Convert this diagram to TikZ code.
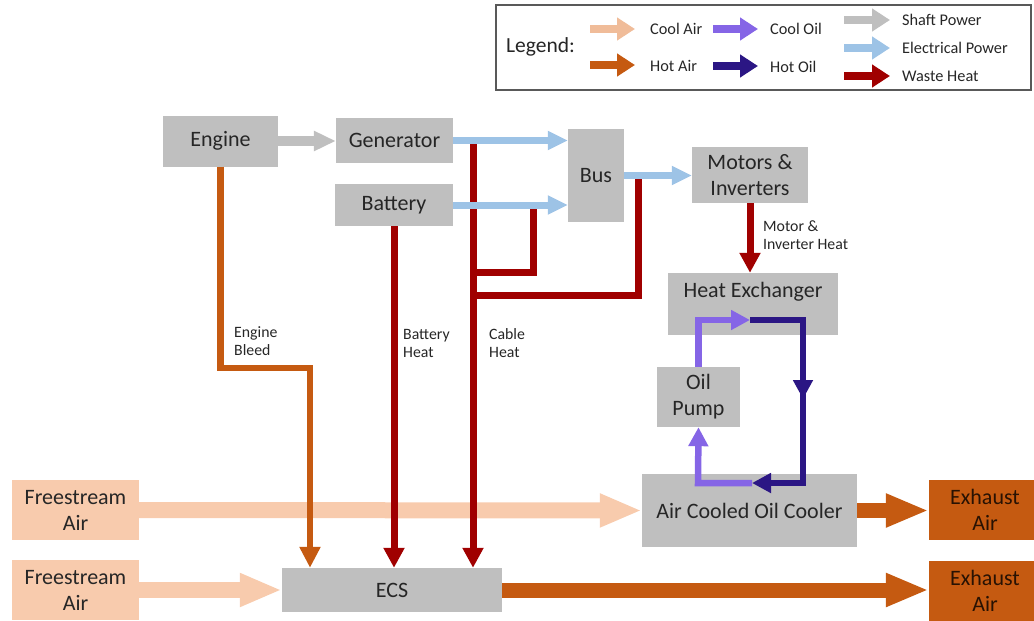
\documentclass[tikz,border=0pt]{standalone}
\usepackage{fontspec}
\setmainfont{Carlito}
\usetikzlibrary{arrows.meta}
\definecolor{boxgray}{HTML}{BFBFBF}
\definecolor{txt}{HTML}{262626}
\definecolor{coolair}{HTML}{F8CBAD}
\definecolor{hotair}{HTML}{C55A11}
\definecolor{cooloil}{HTML}{8565E6}
\definecolor{hotoil}{HTML}{2B1684}
\definecolor{shaftc}{HTML}{BFBFBF}
\definecolor{elecc}{HTML}{9DC3E6}
\definecolor{heatc}{HTML}{A00000}
\definecolor{legborder}{HTML}{595959}
\tikzset{
  boxg/.style={fill=boxgray, inner sep=0pt, font=\fontsize{22}{26}\selectfont, text=txt, align=center},
  boxca/.style={boxg, fill=coolair},
  boxha/.style={boxg, fill=hotair, text=hotair!20!black},
  boxtext/.style={inner sep=0pt, font=\fontsize{22}{26}\selectfont, text=txt},
  lbl/.style={font=\fontsize{15.8}{18}\selectfont, text=txt, align=left, anchor=west, inner sep=0pt},
  legtext/.style={font=\fontsize{16.3}{19}\selectfont, text=txt, anchor=west, inner sep=0pt},
  shaftarrow/.style={draw=shaftc, line width=10pt, -{Triangle[length=22pt,width=19pt]}},
  elec/.style={draw=elecc, line width=7pt, -{Triangle[length=20pt,width=18pt]}},
  heat/.style={draw=heatc, line width=7pt, line join=miter},
  heatarr/.style={heat, -{Triangle[length=20pt,width=20pt]}},
  bleed/.style={draw=hotair, line width=6.5pt, line join=miter, -{Triangle[length=21pt,width=20pt]}},
  bigcool/.style={draw=coolair, line width=16pt, -{Triangle[length=42pt,width=31pt]}},
  bighot/.style={draw=hotair, line width=15pt, -{Triangle[length=43pt,width=31pt]}},
  cooloilarr/.style={draw=cooloil, line width=6.5pt, line join=miter, -{Triangle[length=19pt,width=19pt]}},
  hotoilarr/.style={draw=hotoil, line width=6.5pt, line join=miter, -{Triangle[length=19pt,width=19pt]}},
  legarrow/.style={line width=8pt, -{Triangle[length=18pt,width=22pt]}}
}
\begin{document}
\begin{tikzpicture}[x=1pt,y=-1pt]
\useasboundingbox (0,0) rectangle (1034,621);
% ---------- legend ----------
\node[draw=legborder, line width=1.2pt, minimum width=535pt, minimum height=85pt, inner sep=0pt] (leg) at (763.5,47.5) {};
\node[legtext, font=\fontsize{21.5}{24}\selectfont] (legt) at (506,47) {Legend:};
\coordinate (lca1) at (590,29); \coordinate (lca2) at (635,29);
\coordinate (lha1) at (590,65); \coordinate (lha2) at (635,65);
\coordinate (lco1) at (713,29); \coordinate (lco2) at (758,29);
\coordinate (lho1) at (713,66); \coordinate (lho2) at (758,66);
\coordinate (lsp1) at (844,20); \coordinate (lsp2) at (890,20);
\coordinate (lep1) at (844,48); \coordinate (lep2) at (890,48);
\coordinate (lwh1) at (844,76); \coordinate (lwh2) at (890,76);
\draw[legarrow, draw=coolair!80!hotair!90] (lca1) -- (lca2);
\draw[legarrow, draw=hotair] (lha1) -- (lha2);
\draw[legarrow, draw=cooloil] (lco1) -- (lco2);
\draw[legarrow, draw=hotoil] (lho1) -- (lho2);
\draw[legarrow, draw=shaftc] (lsp1) -- (lsp2);
\draw[legarrow, draw=elecc] (lep1) -- (lep2);
\draw[legarrow, draw=heatc] (lwh1) -- (lwh2);
\node[legtext] (tca) at (650,29) {Cool Air};
\node[legtext] (tha) at (650,66) {Hot Air};
\node[legtext] (tco) at (770,29) {Cool Oil};
\node[legtext] (tho) at (770,67) {Hot Oil};
\node[legtext] (tsp) at (902,20) {Shaft Power};
\node[legtext] (tep) at (902,48) {Electrical Power};
\node[legtext] (twh) at (902,76) {Waste Heat};
% ---------- boxes ----------
\node[boxg, minimum width=115pt, minimum height=51pt] (eng) at (220.5,141) {Engine};
\node[boxg, minimum width=117pt, minimum height=45pt] (gen) at (394.5,140.5) {Generator};
\node[boxg, minimum width=118pt, minimum height=42pt] (bat) at (394,205) {Battery};
\node[boxg, minimum width=56pt, minimum height=93pt] (bus) at (596,175.5) {Bus};
\node[boxg, minimum width=116pt, minimum height=56pt] (mot) at (750,175) {Motors \&\\Inverters};
\node[boxg, minimum width=170pt, minimum height=62pt] (hx) at (753,304) {};
\node[boxtext] (hxt) at (753,292) {Heat Exchanger};
\node[boxg, minimum width=83pt, minimum height=60pt] (pump) at (698.5,397) {Oil\\Pump};
\node[boxg, minimum width=215pt, minimum height=73pt] (acoc) at (749.5,510.5) {Air Cooled Oil Cooler};
\node[boxg, minimum width=220pt, minimum height=44pt] (ecs) at (392,590) {ECS};
\node[boxca, minimum width=127pt, minimum height=60pt] (fa1) at (75.5,510) {Freestream\\Air};
\node[boxca, minimum width=127pt, minimum height=60pt] (fa2) at (75.5,590) {Freestream\\Air};
\node[boxha, minimum width=112pt, minimum height=60pt] (ea1) at (985,510) {Exhaust\\Air};
\node[boxha, minimum width=112pt, minimum height=60pt] (ea2) at (985,590.5) {Exhaust\\Air};
% ---------- air flows ----------
\draw[bigcool] (fa1.east) -- (acoc.west);
\draw[bigcool] (fa2.east) -- (ecs.west |- fa2.east);
\draw[bighot] (acoc.east) -- (ea1.west |- acoc.east);
\draw[bighot] (ecs.east) -- (ea2.west |- ecs.east);
% ---------- engine bleed ----------
\coordinate (bleedc) at (310,368);
\draw[bleed] (eng.south) |- (bleedc) -- (bleedc |- ecs.north);
% ---------- waste heat ----------
\coordinate (cabtop) at (473,141);
\coordinate (j1) at (473,272);
\coordinate (j2) at (473,295);
\coordinate (t1) at (533,206);
\coordinate (t2) at (638,177);
\draw[heat] (t1) |- (j1);
\draw[heat] (t2) |- (j2);
\draw[heatarr] (cabtop) -- (cabtop |- ecs.north);
\draw[heatarr] (bat.south) -- (bat.south |- ecs.north);
\draw[heatarr] (mot.south) -- (mot.south |- hx.north);
% ---------- power ----------
\draw[shaftarrow] (eng.east) -- (gen.west |- eng.east);
\draw[elec] (gen.east) -- (gen.east -| bus.west);
\draw[elec] (bat.east) -- (bat.east -| bus.west);
\draw[elec] (bus.east) -- (mot.west |- bus.east);
% ---------- oil loop ----------
\coordinate (oA) at (750,320);
\coordinate (oC) at (803,320);
\coordinate (oD) at (803,399);
\coordinate (oD2) at (803,392);
\coordinate (oE) at (803,483);
\coordinate (oB) at (752,483);
\coordinate (oF) at (698,483);
\draw[hotoilarr] (oA) -- (oC) -- (oD);
\draw[hotoilarr] (oD2) -- (oE) -- (oB);
\draw[cooloilarr] (pump.north) |- (oA);
\draw[cooloilarr] (oB) -- (oF) -- (pump.south);
% ---------- labels ----------
\node[lbl] (lbleed) at (234,341) {Engine\\Bleed};
\node[lbl] (lbat) at (403,343) {Battery\\Heat};
\node[lbl] (lcab) at (489,343) {Cable\\Heat};
\node[lbl] (lmot) at (763,235) {Motor \&\\Inverter Heat};
\end{tikzpicture}
\end{document}
